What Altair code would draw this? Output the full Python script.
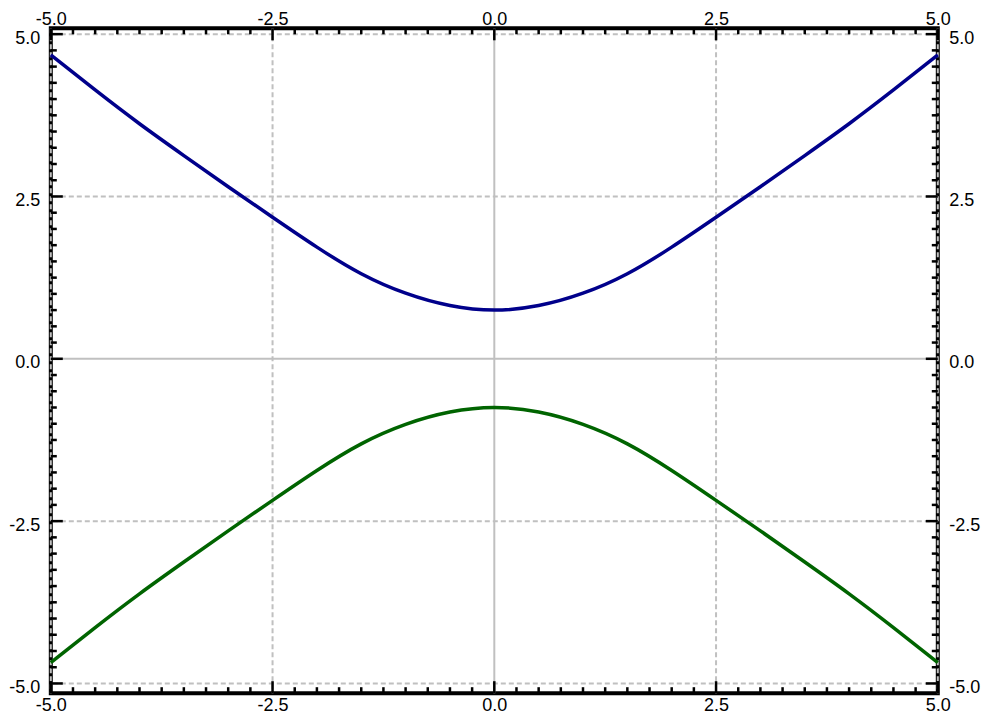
import altair as alt
import pandas as pd

# ---- data ----
x_vals = [-5.0, -4.5, -4.0, -3.5, -3.0, -2.5, -2.0, -1.5, -1.0, -0.5, 0.0,
          0.5, 1.0, 1.5, 2.0, 2.5, 3.0, 3.5, 4.0, 4.5, 5.0]
upper_vals = [4.68, 4.14, 3.62, 3.13, 2.65, 2.18, 1.72, 1.31, 1.01, 0.82, 0.75,
              0.82, 1.01, 1.31, 1.72, 2.18, 2.65, 3.13, 3.62, 4.14, 4.68]
lower_vals = [-4.68, -4.14, -3.62, -3.13, -2.65, -2.18, -1.72, -1.31, -1.01, -0.82, -0.75,
              -0.82, -1.01, -1.31, -1.72, -2.18, -2.65, -3.13, -3.62, -4.14, -4.68]

major_ticks = [-5.0, -2.5, 0.0, 2.5, 5.0]
minor_ticks = [-4.75, -4.5, -4.25, -4.0, -3.75, -3.5, -3.25, -3.0, -2.75,
               -2.25, -2.0, -1.75, -1.5, -1.25, -1.0, -0.75, -0.5, -0.25,
               0.25, 0.5, 0.75, 1.0, 1.25, 1.5, 1.75, 2.0, 2.25,
               2.75, 3.0, 3.25, 3.5, 3.75, 4.0, 4.25, 4.5, 4.75]
dashed_grid = [-5.0, -2.5, 2.5, 5.0]
solid_grid = [0.0]

series_names = ["upper", "lower"]
series_colors = ["#00008b", "#006400"]

# ---- layout / style ----
W, H = 887, 664.9
MAJ, MIN = 12, 6
FONT = "Liberation Sans"
LABEL_EXPR = "(datum.value < 0 ? '-' : '') + format(abs(datum.value), '.1f')"

xscale = alt.Scale(domain=[-5, 5], nice=False, zero=False)
yscale = alt.Scale(domain=[-5.15, 5.09], nice=False, zero=False)

curves = pd.DataFrame({
    "x": x_vals + x_vals,
    "y": upper_vals + lower_vals,
    "series": [series_names[0]] * len(x_vals) + [series_names[1]] * len(x_vals),
})
maj_df = pd.DataFrame({"v": major_ticks})
min_df = pd.DataFrame({"v": minor_ticks})
dash_df = pd.DataFrame({"v": dashed_grid})
solid_df = pd.DataFrame({"v": solid_grid})


def ax(orient, pad, offset=0):
    return alt.Axis(orient=orient, values=major_ticks, labelExpr=LABEL_EXPR, ticks=False,
                    tickSize=0, domain=False, grid=False, labelFont=FONT,
                    labelFontSize=18, labelColor="black", labelPadding=pad,
                    labelOffset=offset, labelFlush=False, labelOverlap=False,
                    labelBound=False, title=None)


def X(field, axis=None):
    return alt.X(field, type="quantitative", scale=xscale, axis=axis)


def Y(field, axis=None):
    return alt.Y(field, type="quantitative", scale=yscale, axis=axis)


grid_style = dict(color="#c0c0c0", strokeWidth=2)

grid_x_dash = alt.Chart(dash_df).mark_rule(strokeDash=[5, 3], **grid_style).encode(x=X("v"))
grid_y_dash = alt.Chart(dash_df).mark_rule(strokeDash=[5, 3], **grid_style).encode(y=Y("v"))
grid_x_solid = alt.Chart(solid_df).mark_rule(**grid_style).encode(x=X("v"))
grid_y_solid = alt.Chart(solid_df).mark_rule(**grid_style).encode(y=Y("v"))

lines = alt.Chart(curves).mark_line(strokeWidth=3.5, interpolate="natural").encode(
    x=X("x"),
    y=Y("y"),
    color=alt.Color("series:N", scale=alt.Scale(domain=series_names, range=series_colors),
                    legend=None),
    detail="series:N",
)

tick_style = dict(color="black", strokeWidth=2.5)

top_major = alt.Chart(maj_df).mark_rule(**tick_style).encode(
    x=X("v", ax("top", 0)), y=alt.value(0), y2=alt.value(MAJ))
bottom_major = alt.Chart(maj_df).mark_rule(**tick_style).encode(
    x=X("v", ax("bottom", 3)), y=alt.value(H), y2=alt.value(H - MAJ))
left_major = alt.Chart(maj_df).mark_rule(**tick_style).encode(
    y=Y("v", ax("left", 11, 4)), x=alt.value(0), x2=alt.value(MAJ))
right_major = alt.Chart(maj_df).mark_rule(**tick_style).encode(
    y=Y("v", ax("right", 11, 4)), x=alt.value(W), x2=alt.value(W - MAJ))

top_minor = alt.Chart(min_df).mark_rule(**tick_style).encode(
    x=X("v"), y=alt.value(0), y2=alt.value(MIN))
bottom_minor = alt.Chart(min_df).mark_rule(**tick_style).encode(
    x=X("v"), y=alt.value(H), y2=alt.value(H - MIN))
left_minor = alt.Chart(min_df).mark_rule(**tick_style).encode(
    y=Y("v"), x=alt.value(0), x2=alt.value(MIN))
right_minor = alt.Chart(min_df).mark_rule(**tick_style).encode(
    y=Y("v"), x=alt.value(W), x2=alt.value(W - MIN))

chart = alt.layer(
    grid_x_dash, grid_y_dash, grid_x_solid, grid_y_solid,
    lines,
    top_major, bottom_major, left_major, right_major,
    top_minor, bottom_minor, left_minor, right_minor,
).resolve_axis(
    x="independent", y="independent"
).properties(
    width=W, height=H,
    autosize=alt.AutoSizeParams(type="none"),
    padding={"left": 42.8, "top": 20.3, "right": 43, "bottom": 20.8},
    background="white",
).configure_view(
    stroke="black", strokeWidth=4
)

chart.save("out.html", embed_options={"renderer": "svg", "actions": False})
